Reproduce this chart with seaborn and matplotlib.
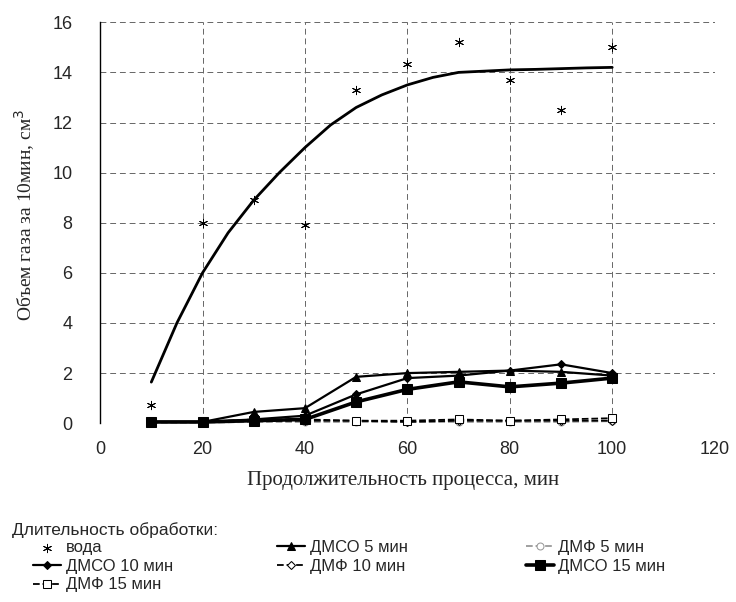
import matplotlib
matplotlib.use("Agg")
import matplotlib.pyplot as plt
import seaborn as sns
import pandas as pd

# данные
x = [10, 20, 30, 40, 50, 60, 70, 80, 90, 100]
voda = [0.72, 8.0, 8.9, 7.9, 13.3, 14.35, 15.2, 13.7, 12.5, 15.0]

# линия тренда для воды
trend_x = [10, 15, 20, 25, 30, 35, 40, 45, 50, 55, 60, 65, 70, 75, 80, 85, 90, 95, 100]
trend_y = [1.64, 4.0, 6.0, 7.6, 8.9, 10.0, 11.0, 11.9, 12.6, 13.1, 13.5, 13.8, 14.0, 14.05, 14.1, 14.12, 14.15, 14.18, 14.2]

dmso5 = [0.05, 0.05, 0.45, 0.6, 1.85, 2.0, 2.05, 2.1, 2.05, 1.9]
dmso10 = [0.05, 0.05, 0.15, 0.3, 1.15, 1.8, 1.9, 2.1, 2.35, 2.0]
dmso15 = [0.05, 0.05, 0.1, 0.15, 0.85, 1.35, 1.65, 1.45, 1.6, 1.8]
dmf5 = [0.02, 0.02, 0.05, 0.05, 0.05, 0.05, 0.05, 0.05, 0.05, 0.08]
dmf10 = [0.05, 0.05, 0.1, 0.1, 0.1, 0.05, 0.1, 0.1, 0.1, 0.1]
dmf15 = [0.05, 0.05, 0.15, 0.15, 0.1, 0.1, 0.15, 0.1, 0.15, 0.2]

sns.set_style("white")
plt.rcParams['font.family'] = ['Liberation Sans', 'DejaVu Sans']

fig = plt.figure(figsize=(7.36, 6.02), dpi=100)
ax = fig.add_axes([0.136, 0.297, 0.835, 0.666])

# вода - точки и тренд
sns.lineplot(x=trend_x, y=trend_y, ax=ax, color='black', lw=2, legend=False)
h_voda = ax.scatter(x, voda, marker=(6, 2, 0), s=36, color='black', linewidths=0.7,
                    label='вода', zorder=5, clip_on=False)

# сначала ДМФ, потом ДМСО (маркеры ДМСО сверху)
styles = [
    ('ДМФ 5 мин', dmf5, dict(color='0.6', lw=1.3, marker='o', ms=5, mfc='white', mec='0.6', linestyle='--')),
    ('ДМФ 10 мин', dmf10, dict(color='black', lw=1.3, marker='D', ms=4.5, mfc='white', mec='black', linestyle='--')),
    ('ДМФ 15 мин', dmf15, dict(color='black', lw=1.3, marker='s', ms=5.5, mfc='white', mec='black', linestyle='--')),
    ('ДМСО 5 мин', dmso5, dict(color='black', lw=1.6, marker='^', ms=6, mec='black', linestyle='-')),
    ('ДМСО 10 мин', dmso10, dict(color='black', lw=1.6, marker='D', ms=4.5, mec='black', linestyle='-')),
    ('ДМСО 15 мин', dmso15, dict(color='black', lw=2.6, marker='s', ms=7.5, mec='black', linestyle='-')),
]
handles = {'вода': h_voda}
for name, vals, st in styles:
    df = pd.DataFrame({'x': x, 'y': vals})
    sns.lineplot(data=df, x='x', y='y', ax=ax, label=name, clip_on=False, **st)
    handles[name] = ax.lines[-1]

ax.set_xlim(0, 120)
ax.set_ylim(0, 16)
ax.set_xticks(range(0, 121, 20))
ax.set_yticks(range(0, 17, 2))
ax.grid(True, color='0.4', linestyle=(0, (6, 4)), lw=0.7)
for s in ['top', 'right', 'bottom']:
    ax.spines[s].set_visible(False)
ax.spines['left'].set_color('black')
ax.spines['left'].set_linewidth(1)
ax.tick_params(axis='both', labelsize=13, length=0)
ax.tick_params(axis='y', pad=20)
ax.tick_params(axis='x', pad=13)

ax.set_xlabel('Продолжительность процесса, мин', family=['Liberation Serif'], fontsize=15)
ax.xaxis.set_label_coords(0.493, -0.142)
ax.xaxis.label.set_va('center')
ax.set_ylabel('Объем газа за 10мин, см$^3$', family=['Liberation Serif'], fontsize=14)
ax.yaxis.set_label_coords(-0.122, 0.52)
ax.yaxis.label.set_va('center')

ax.get_legend().remove()

# легенда: заголовок и три колонки
fig.text(12 / 736, 1 - 530 / 602, 'Длительность обработки:', fontsize=12.5, va='center', ha='left')
cols = [(33, ['вода', 'ДМСО 10 мин', 'ДМФ 15 мин']),
        (277, ['ДМСО 5 мин', 'ДМФ 10 мин']),
        (526, ['ДМФ 5 мин', 'ДМСО 15 мин'])]
for xpx, names in cols:
    lg = fig.legend([handles[k] for k in names], names, loc='upper left',
                    bbox_to_anchor=(xpx / 736, 1 - 540 / 602), frameon=False, fontsize=12,
                    handlelength=1.7, handletextpad=0.25, labelspacing=0.22, borderpad=0,
                    borderaxespad=0)

fig.savefig('out.png', dpi=100)
